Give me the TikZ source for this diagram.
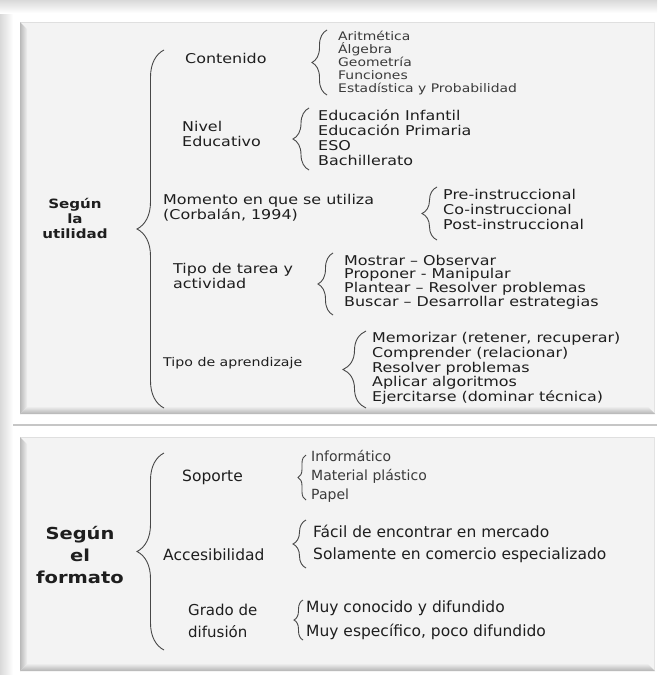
\documentclass[tikz,border=0pt]{standalone}
\usepackage{fontspec}
\usetikzlibrary{decorations.pathreplacing}
\newfontfamily\vfont[FakeStretch=1.18]{DejaVu Sans}
\newfontfamily\tfont{DejaVu Sans}
\newcommand\myfs[2]{\fontsize{#1}{#2}\selectfont}
\definecolor{panelbg}{HTML}{F3F3F3}
\definecolor{ink}{HTML}{1E1E1E}
\definecolor{inkl}{HTML}{3A3A3A}
\tikzset{
  lbl/.style={anchor=west, inner sep=0pt, align=left, text=ink},
  ttl/.style={anchor=center, inner sep=0pt, align=center, text=ink},
  brc/.style={decorate, draw=black!72, line width=0.9pt,
              decoration={brace, amplitude=#1}},
  brc/.default=12,
}
\begin{document}
\begin{tikzpicture}[x=1pt, y=-1pt]
\useasboundingbox (0,0) rectangle (657,675);
\fill[white] (0,0) rectangle (657,675);
% outer shades
\shade[left color=gray!30, right color=white] (0,0) rectangle (13,675);
\shade[top color=gray!30, bottom color=white] (0,0) rectangle (657,13);
% ---------- top panel ----------
\fill[panelbg] (20,22) rectangle (655,414);
\draw[gray!25, line width=1pt] (20,22.5) -- (655,22.5);
\draw[gray!22, line width=1pt] (654.5,22) -- (654.5,414);
\shade[left color=gray!55, right color=gray!12] (20,22) -- (27,29) -- (27,407) -- (20,414) -- cycle;
\shade[top color=gray!15, bottom color=gray!60] (20,414) -- (27,407) -- (648,407) -- (655,414) -- cycle;
% separator
\draw[gray!45, line width=1.2pt] (13,425) -- (657,425);
% ---------- bottom panel ----------
\fill[panelbg] (20,437) rectangle (655,671);
\draw[gray!25, line width=1pt] (20,437.5) -- (655,437.5);
\draw[gray!22, line width=1pt] (654.5,437) -- (654.5,671);
\shade[left color=gray!55, right color=gray!12] (20,437) -- (27,444) -- (27,664) -- (20,671) -- cycle;
\shade[top color=gray!15, bottom color=gray!60] (20,671) -- (27,664) -- (648,664) -- (655,671) -- cycle;

% ---------- top panel texts ----------
\node[ttl, font=\vfont\bfseries\myfs{12.8}{15}] (t1) at (75,218) {Según\\la\\utilidad};
\node[lbl, font=\vfont\myfs{13.5}{15}] (cont) at (185,58) {Contenido};
\node[lbl, font=\vfont\myfs{11.8}{13}, text=inkl] (contI) at (338,63)
  {Aritmética\\Álgebra\\Geometría\\Funciones\\Estadística y Probabilidad};
\node[lbl, font=\vfont\myfs{13.5}{14.5}] (niv) at (182,134) {Nivel\\Educativo};
\node[lbl, font=\vfont\myfs{13.5}{15}] (nivI) at (318,138)
  {Educación Infantil\\Educación Primaria\\ESO\\Bachillerato};
\node[lbl, font=\vfont\myfs{13.5}{15}] (mom) at (163,208) {Momento en que se utiliza\\(Corbalán, 1994)};
\node[lbl, font=\vfont\myfs{13.5}{15}] (momI) at (443,209)
  {Pre-instruccional\\Co-instruccional\\Post-instruccional};
\node[lbl, font=\vfont\myfs{13.5}{15}] (tar) at (173,276) {Tipo de tarea y\\actividad};
\node[lbl, font=\vfont\myfs{13.5}{13.8}] (tarI) at (344,282)
  {Mostrar – Observar\\Proponer - Manipular\\Plantear – Resolver problemas\\Buscar – Desarrollar estrategias};
\node[lbl, font=\vfont\myfs{12}{14}] (apr) at (163,363) {Tipo de aprendizaje};
\node[lbl, font=\vfont\myfs{13.5}{14.75}] (aprI) at (372,368.5)
  {Memorizar (retener, recuperar)\\Comprender (relacionar)\\Resolver problemas\\Aplicar algoritmos\\Ejercitarse (dominar técnica)};

% braces top
\coordinate (B1b) at (164,408); \coordinate (B1t) at (164,50);
\coordinate (Cb) at (327,95);   \coordinate (Ct) at (327,30);
\coordinate (Nb) at (309,170);  \coordinate (Nt) at (309,108);
\coordinate (Mb) at (437,240);  \coordinate (Mt) at (437,187);
\coordinate (Tb) at (333,315);  \coordinate (Tt) at (333,253);
\coordinate (Ab) at (366,408);  \coordinate (At) at (366,331);
\draw[brc=27] (B1b) -- (B1t);
\draw[brc=15] (Cb) -- (Ct);
\draw[brc=16] (Nb) -- (Nt);
\draw[brc=15] (Mb) -- (Mt);
\draw[brc=15] (Tb) -- (Tt);
\draw[brc=23] (Ab) -- (At);

% ---------- bottom panel texts ----------
\node[ttl, font=\vfont\bfseries\myfs{16.5}{22}] (t2) at (80,555) {Según\\el\\formato};
\node[lbl, font=\tfont\myfs{15.5}{18}] (sop) at (182,477) {Soporte};
\node[lbl, font=\tfont\myfs{14}{19}, text=inkl] (sopI) at (311,476)
  {Informático\\Material plástico\\Papel};
\node[lbl, font=\tfont\myfs{15.5}{18}] (acc) at (163,555) {Accesibilidad};
\node[lbl, font=\tfont\myfs{15.5}{22}] (accI) at (313,544)
  {Fácil de encontrar en mercado\\Solamente en comercio especializado};
\node[lbl, font=\tfont\myfs{15}{22}] (gra) at (188,621) {Grado de\\difusión};
\node[lbl, font=\tfont\myfs{15.5}{24}] (graI) at (306,620)
  {Muy conocido y difundido\\Muy específico, poco difundido};

% braces bottom
\coordinate (B2b) at (164,650); \coordinate (B2t) at (164,453);
\coordinate (Sb) at (306,500);  \coordinate (St) at (306,455);
\coordinate (Kb) at (306,568);  \coordinate (Kt) at (306,520);
\coordinate (Gb) at (303,640);  \coordinate (Gt) at (303,600);
\draw[brc=8] (Sb) -- (St);
\draw[brc=27] (B2b) -- (B2t);
\draw[brc=13] (Kb) -- (Kt);
\draw[brc=9] (Gb) -- (Gt);
\end{tikzpicture}
\end{document}
